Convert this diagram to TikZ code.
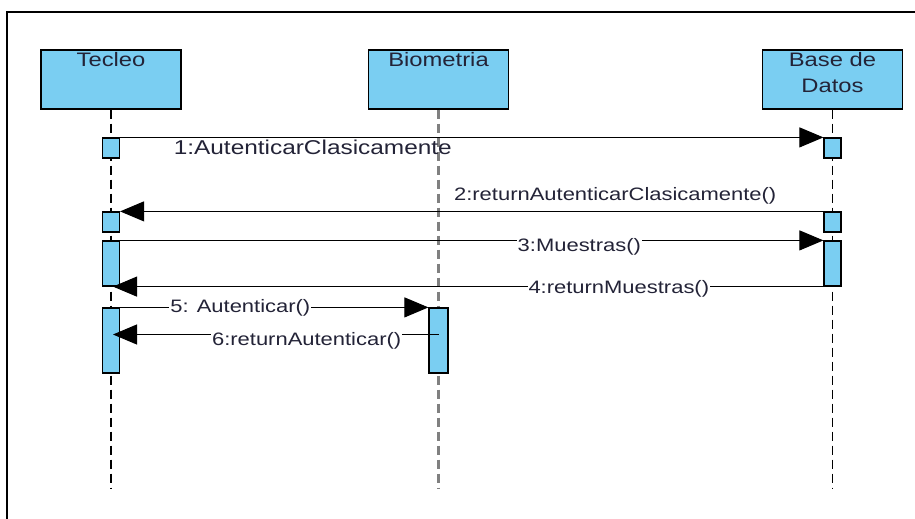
\documentclass[tikz,border=0pt]{standalone}
\usepackage{fontspec}
\setmainfont{Liberation Sans}[FakeStretch=1.22]
\usetikzlibrary{arrows.meta}
\definecolor{umlblue}{RGB}{122,206,242}
\definecolor{umltext}{RGB}{35,35,55}

\begin{document}
\begin{tikzpicture}[x=1pt, y=-1pt,
		obj/.style={draw, fill=umlblue, line width=1.2pt, minimum width=140pt, minimum height=59pt, inner sep=0},
		objtxt/.style={anchor=north, yshift=-2pt, inner sep=1pt, align=center, text=umltext, font=\fontsize{19.5}{26}\selectfont},
		act/.style={draw, fill=umlblue, line width=1.2pt, minimum width=17pt, inner sep=0},
		life/.style={dash pattern=on 9pt off 5pt, line width=1.2pt},
		msg/.style={line width=1pt, -{Triangle[length=24pt, width=20pt]}},
		lbl/.style={inner sep=1pt, text=umltext, font=\fontsize{18}{21}\selectfont},
		onln/.style={lbl, fill=white}]
	\useasboundingbox (0,0) rectangle (915,519);
	\draw[line width=1.5pt] (7,519) -- (7,12) -- (915,12);
	% objects
	\node[obj, label={[objtxt]north:Tecleo}] at (111,79.5) (tecleo) {};
	\node[obj, label={[objtxt]north:Biometria}] at (438.5,79.5) (bio) {};
	\node[obj, label={[objtxt]north:{Base de\\Datos}}] at (832.5,79.5) (bd) {};
	\coordinate (tecleo-end) at (111,488);
	\coordinate (bio-end) at (438.5,488);
	\coordinate (bd-end) at (832.5,488);
	\draw[life] (tecleo.south) -- (tecleo-end);
	\draw[life, draw=gray, line width=2.5pt] (bio.south) -- (bio-end);
	\draw[life] (bd.south) -- (bd-end);
	% activations
	\node[act, minimum height=20pt] at (111,148) (t1) {};
	\node[act, minimum height=20pt] at (111,222) (t2) {};
	\node[act, minimum height=45pt] at (111,263.5) (t3) {};
	\node[act, minimum height=65pt] at (111,340.5) (t4) {};
	\node[act, minimum height=65pt, minimum width=19pt] at (438.5,340.5) (b1) {};
	\node[act, minimum height=20pt] at (832.5,148) (d1) {};
	\node[act, minimum height=20pt] at (832.5,222) (d2) {};
	\node[act, minimum height=45pt] at (832.5,263.5) (d3) {};
	% messages
	\draw[msg] (t1.north east) -- (d1.north west)
		node[lbl, pos=0.274, below=1pt, font=\fontsize{20}{24}\selectfont] {1:AutenticarClasicamente};
	\draw[msg] (d2.north west) -- (t2.north east)
		node[lbl, pos=0.296, above=6pt] {2:returnAutenticarClasicamente()};
	\draw[msg] (t3.north east) -- (d3.north west)
		node[onln, pos=0.653, yshift=-6pt] {3:Muestras()};
	\draw[msg] (d3.south west) -- ([xshift=2pt]t3.south)
		node[onln, pos=0.288, yshift=-2pt] {4:returnMuestras()};
	\draw[msg] (t4.north east) -- (b1.north west)
		node[onln, pos=0.39] {5: Autenticar()};
	\draw[msg] ([yshift=6pt]b1.center) -- ([yshift=6pt, xshift=2pt]t4.center)
		node[onln, pos=0.405, yshift=-6pt] {6:returnAutenticar()};
\end{tikzpicture}
\end{document}
